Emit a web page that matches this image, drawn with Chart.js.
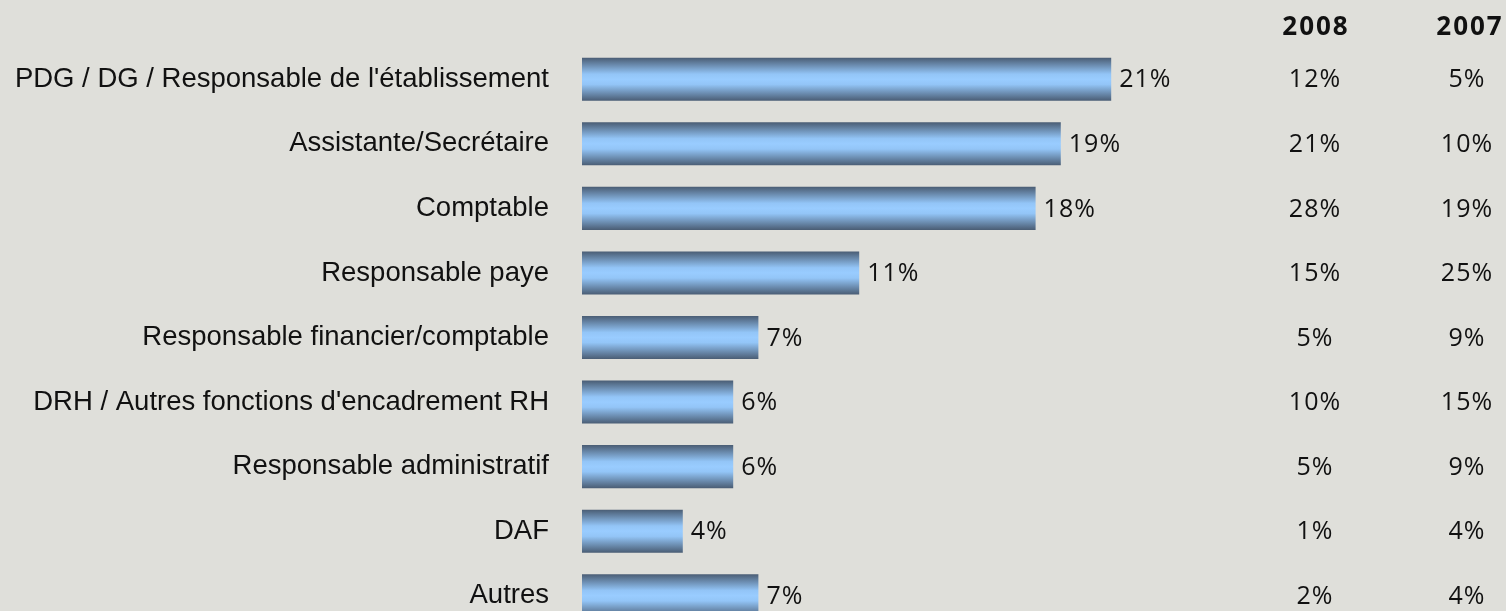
<!DOCTYPE html>
<html>
<head>
<meta charset="utf-8">
<script src="https://cdn.jsdelivr.net/npm/chart.js@4.4.1/dist/chart.umd.min.js"></script>
<style>
  html, body { margin: 0; padding: 0; background: #dfdfda; overflow: hidden; }
</style>
</head>
<body>
<canvas id="chart" width="1506" height="628"></canvas>
<script>
// Data
const categories = [
  "PDG / DG / Responsable de l'établissement",
  'Assistante/Secrétaire',
  'Comptable',
  'Responsable paye',
  'Responsable financier/comptable',
  "DRH / Autres fonctions d'encadrement RH",
  'Responsable administratif',
  'DAF',
  'Autres'
];
const currentValues = [21, 19, 18, 11, 7, 6, 6, 4, 7];
const columnHeaders = ['2008', '2007'];
const values2008 = [12, 21, 28, 15, 5, 10, 5, 1, 2];
const values2007 = [5, 10, 19, 25, 9, 15, 9, 4, 4];

const textColor = '#111111';
const labelFont = "'Liberation Sans', Arial, sans-serif";
const numFont = "'Open Sans', sans-serif";

// Vertical gradient per bar: dark edges, light middle
function barGradient(ctx) {
  const chart = ctx.chart;
  const area = chart.chartArea;
  if (!area) return '#99ccff';
  const y = chart.scales.y;
  const band = area.height / categories.length;
  const thick = band * 0.667;
  const cy = y.getPixelForTick(ctx.dataIndex);
  const g = chart.ctx.createLinearGradient(0, cy - thick / 2, 0, cy + thick / 2);
  g.addColorStop(0, '#4a5d74');
  g.addColorStop(0.38, '#93c5f7');
  g.addColorStop(0.5, '#99ccff');
  g.addColorStop(0.62, '#93c5f7');
  g.addColorStop(1, '#4a5d74');
  return g;
}

// Value labels + the two comparison columns
const textPlugin = {
  id: 'texts',
  afterDatasetsDraw(chart) {
    const c = chart.ctx;
    const meta = chart.getDatasetMeta(0);
    c.save();
    c.fillStyle = textColor;
    c.textBaseline = 'middle';

    c.font = '25px ' + numFont;
    c.letterSpacing = '1px';
    c.textAlign = 'left';
    meta.data.forEach((bar, i) => {
      c.fillText(currentValues[i] + '%', bar.x + 8, bar.y + 1);
    });

    c.textAlign = 'center';
    meta.data.forEach((bar, i) => {
      c.fillText(values2008[i] + '%', 1315, bar.y + 1);
      c.fillText(values2007[i] + '%', 1467, bar.y + 1);
    });

    c.font = 'bold 26px ' + numFont;
    c.letterSpacing = '2px';
    c.fillText(columnHeaders[0], 1316, 28);
    c.fillText(columnHeaders[1], 1470, 28);
    c.restore();
  }
};

new Chart(document.getElementById('chart'), {
  type: 'bar',
  data: {
    labels: categories,
    datasets: [{
      data: currentValues,
      backgroundColor: barGradient,
      borderWidth: 0,
      categoryPercentage: 1,
      barPercentage: 0.667
    }]
  },
  options: {
    indexAxis: 'y',
    responsive: false,
    animation: false,
    layout: { padding: { top: 47, bottom: 0, left: 0, right: 0 } },
    plugins: {
      legend: { display: false },
      tooltip: { enabled: false }
    },
    scales: {
      x: {
        display: false,
        min: 0,
        max: 924 / 25.2
      },
      y: {
        afterFit(scale) {
          scale.width = 582;
          scale.paddingTop = 0;
          scale.paddingBottom = 0;
        },
        grid: { display: false, drawTicks: false },
        border: { display: false },
        ticks: {
          padding: 33,
          color: textColor,
          font: { family: labelFont, size: 27.5 }
        }
      }
    }
  },
  plugins: [textPlugin]
});
</script>
</body>
</html>
